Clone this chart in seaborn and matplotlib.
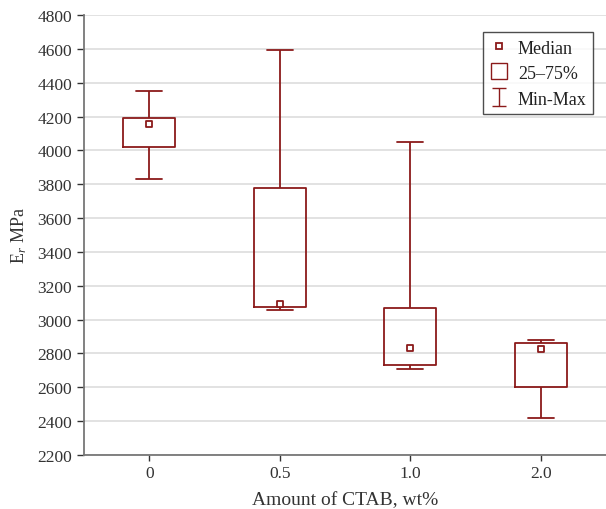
import numpy as np
import pandas as pd
import matplotlib
matplotlib.use("Agg")
import matplotlib.pyplot as plt
from matplotlib.lines import Line2D
import seaborn as sns

categories = ["0", "0.5", "1.0", "2.0"]
mins = [3830, 3055, 2710, 2420]
q1s = [4020, 3072, 2730, 2600]
medians = [4157, 3090, 2832, 2825]
q3s = [4192, 3780, 3070, 2860]
maxs = [4352, 4592, 4050, 2880]

yticks = list(range(2200, 4801, 200))

sns.set_theme(style="white")
plt.rcParams['font.family'] = ['Liberation Serif', 'DejaVu Serif']
plt.rcParams['mathtext.fontset'] = 'custom'
plt.rcParams['mathtext.rm'] = 'Liberation Serif'
plt.rcParams['mathtext.it'] = 'Liberation Serif:italic'

red = "#8b1a1a"

rows = []
for c, a, b, m, d, e in zip(categories, mins, q1s, medians, q3s, maxs):
    for v in (a, b, m, d, e):
        rows.append({"cat": c, "val": v})
df = pd.DataFrame(rows)
med_df = pd.DataFrame({"cat": categories, "val": medians})

fig = plt.figure(figsize=(6.06, 5.10), dpi=100)
ax = fig.add_axes([0.1386, 0.1059, 0.8614, 0.8627])

ax.yaxis.grid(True, color="#dddddd", linewidth=1.2)
ax.set_axisbelow(True)

sns.boxplot(data=df, x="cat", y="val", order=categories, whis=(0, 100),
            width=0.4, fill=False, color=red, linewidth=1.3,
            medianprops=dict(linewidth=0), capprops=dict(color=red),
            whiskerprops=dict(color=red), boxprops=dict(color=red),
            showfliers=False, ax=ax)

sns.stripplot(data=med_df, x="cat", y="val", order=categories, jitter=False,
              marker="s", s=4.5, color="white", edgecolor=red, linewidth=1.3,
              ax=ax, zorder=5)

ax.set_xlim(-0.5, 3.5)
ax.set_ylim(2200, 4800)
ax.set_yticks(yticks)
ax.set_yticklabels([str(t) for t in yticks])
ax.set_xlabel("Amount of CTAB, wt%", fontsize=14, color="#333333", labelpad=7)
ax.set_ylabel(r"E$_{\mathit{r}}$ MPa", fontsize=13, color="#333333", labelpad=6)
ax.tick_params(axis="both", labelsize=12.5, colors="#333333",
               length=5, width=1, direction="out", left=True, bottom=True)
ax.tick_params(axis="x", length=4)
for s in ["top", "right"]:
    ax.spines[s].set_visible(False)
for s in ["left", "bottom"]:
    ax.spines[s].set_color("#777777")
    ax.spines[s].set_linewidth(1.3)

eb = ax.errorbar([np.nan], [np.nan], yerr=[[1], [1]], fmt="none",
                 ecolor=red, elinewidth=1.0, capsize=5, capthick=1.0)
handles = [
    Line2D([], [], linestyle="none", marker="s", markersize=4.5,
           markerfacecolor="white", markeredgecolor=red, markeredgewidth=1.3),
    Line2D([], [], linestyle="none", marker="s", markersize=11,
           markerfacecolor="white", markeredgecolor=red, markeredgewidth=1.0),
    eb,
]
leg = ax.legend(handles, ["Median", "25\u201375%", "Min-Max"], loc="upper right",
                bbox_to_anchor=(0.975, 0.961), borderaxespad=0, fontsize=13,
                frameon=True, fancybox=False, edgecolor="#222222",
                handlelength=1.1, handletextpad=0.5, borderpad=0.35,
                labelspacing=0.4, handleheight=1.0)
leg.get_frame().set_linewidth(1.0)
for t in leg.get_texts():
    t.set_color("#222222")

fig.savefig("out.png", dpi=100)
